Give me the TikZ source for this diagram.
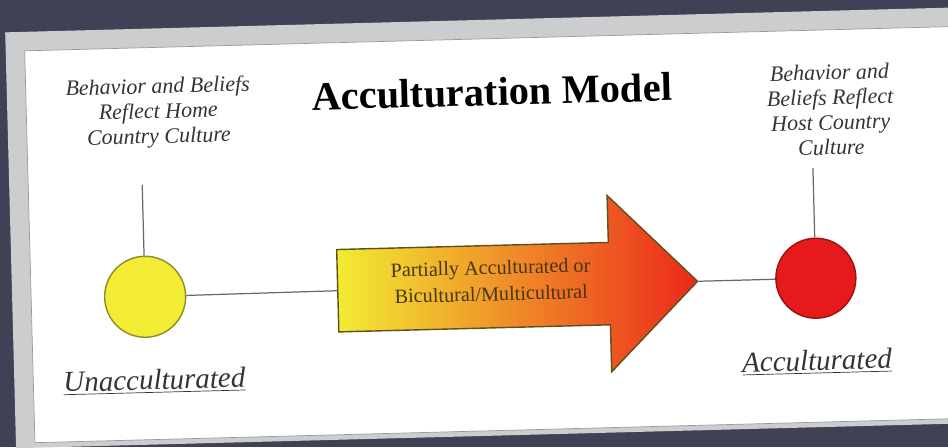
\documentclass[tikz,border=0pt]{standalone}
\usepackage{fontspec}
\setmainfont{Liberation Serif}
\usepackage{tikz}
\usetikzlibrary{shapes.arrows, positioning}
\definecolor{slatebg}{RGB}{62,66,84}
\definecolor{framegray}{RGB}{204,205,206}
\definecolor{inkgray}{RGB}{52,52,52}
\definecolor{linegray}{RGB}{105,105,105}
\definecolor{sunyellow}{RGB}{242,236,52}
\definecolor{sunedge}{RGB}{140,140,40}
\definecolor{hotred}{RGB}{230,26,26}
\definecolor{hotedge}{RGB}{150,20,20}
\definecolor{midorange}{RGB}{248,204,40}
\definecolor{tipred}{RGB}{236,40,28}
\definecolor{arrowedge}{RGB}{95,80,30}
\definecolor{arrowink}{RGB}{70,55,15}
\tikzset{
    circlenode/.style = {circle, draw, line width=0.8pt, minimum size=1.62cm, inner sep=0em, node distance=0em},
    textnode/.style  = {draw=none, fill=none, rectangle, inner sep=0em, node distance=0em, text=inkgray,
      font=\fontsize{12.5}{14.2}\selectfont\itshape, align=center},
    titlenode/.style = {draw=none, inner sep=0em, text=black, font=\fontsize{23}{27}\selectfont\bfseries},
    labelnode/.style = {draw=none, inner sep=0em, text=inkgray, font=\fontsize{16.5}{19}\selectfont\itshape},
    arrownode/.style = {single arrow, draw=arrowedge, line width=0.8pt, inner xsep=0em, inner ysep=0.81cm,
      minimum height=7.2cm, single arrow head extend=0.94cm,
      left color=sunyellow, middle color=midorange, right color=tipred},
    connect/.style = {draw=linegray, line width=0.7pt}
}

\begin{document}
\begin{tikzpicture}[x=0.02cm, y=-0.02cm]
    \clip (0,0) rectangle (948,447);
    \fill[slatebg] (0,0) rectangle (948,447);
    \begin{scope}[rotate around={1.5:(480,287)}, transform shape]
    % slide panel
    \fill[framegray] (12,20) rectangle (990,436);
    \filldraw[fill=white, draw=gray!80] (31,39) rectangle (990,431);

    \node [name=TITLE, titlenode] at (497,92) {Acculturation Model};

    \node [name=UNACC, circlenode, draw=sunedge, fill=sunyellow] at (145,288) {};
    \node [name=HOME, textnode, above of = UNACC, xshift=0.36cm, yshift=3.67cm]
      {Behavior and Beliefs\\Reflect Home\\Country Culture};
    \coordinate (HOMEEND) at (145,176);
    \draw [connect] (HOMEEND) -- (UNACC);

    \node [name=PARTIAL, arrownode, anchor=tail] at (337,287) {};
    \node [name=PARTIALTXT, textnode, text=arrowink, font=\fontsize{11.5}{15}\selectfont] at (491,281)
      {Partially Acculturated or\\Bicultural/Multicultural};
    \draw [connect] (UNACC) -- (PARTIAL.tail);

    \node [name=ACC, circlenode, draw=hotedge, fill=hotred, minimum size=1.6cm] at (816,287) {};
    \node [name=HOST, textnode, above of = ACC, xshift=0.38cm, yshift=3.36cm]
      {Behavior and\\Beliefs Reflect\\Host Country\\Culture};
    \coordinate (HOSTEND) at (816,177);
    \draw [connect] (HOSTEND) -- (ACC);
    \draw [connect] (PARTIAL.tip) -- (ACC);

    \node [name=UNACCLBL, labelnode, anchor=base] at (152,381) {\underline{Unacculturated}};
    \node [name=ACCLBL, labelnode, anchor=base] at (815,379) {\underline{Acculturated}};
    \end{scope}
\end{tikzpicture}
\end{document}
